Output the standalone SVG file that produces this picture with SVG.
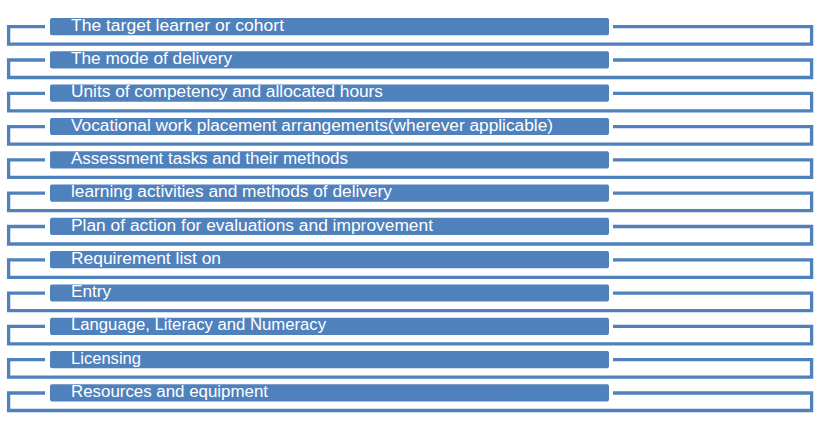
<svg xmlns="http://www.w3.org/2000/svg" width="831" height="425" viewBox="0 0 831 425">
<style>
.frame{fill:none;stroke:#4F81BD;stroke-width:3.3;stroke-linejoin:miter}
.bar{fill:#4F81BD}
.lbl{fill:#ffffff;font-family:"Liberation Sans",Arial,sans-serif;font-size:16px}
</style>
<rect width="831" height="425" fill="#ffffff"/>
<g id="connectors">
<path class="frame" d="M45,26.7 H8.6 V44.2 H811.6 V26.7 H613"/>
<path class="frame" d="M45,60 H8.6 V77.5 H811.6 V60 H613"/>
<path class="frame" d="M45,93.3 H8.6 V110.8 H811.6 V93.3 H613"/>
<path class="frame" d="M45,126.6 H8.6 V144.1 H811.6 V126.6 H613"/>
<path class="frame" d="M45,159.9 H8.6 V177.4 H811.6 V159.9 H613"/>
<path class="frame" d="M45,193.2 H8.6 V210.7 H811.6 V193.2 H613"/>
<path class="frame" d="M45,226.5 H8.6 V244 H811.6 V226.5 H613"/>
<path class="frame" d="M45,259.8 H8.6 V277.3 H811.6 V259.8 H613"/>
<path class="frame" d="M45,293.1 H8.6 V310.6 H811.6 V293.1 H613"/>
<path class="frame" d="M45,326.4 H8.6 V343.9 H811.6 V326.4 H613"/>
<path class="frame" d="M45,359.7 H8.6 V377.2 H811.6 V359.7 H613"/>
<path class="frame" d="M45,393 H8.6 V410.5 H811.6 V393 H613"/>
</g>
<g id="n1"><rect class="bar" x="50" y="18" width="559" height="17.2" rx="2"/><text class="lbl" x="71" y="30.7" textLength="213" lengthAdjust="spacingAndGlyphs">The target learner or cohort</text></g>
<g id="n2"><rect class="bar" x="50" y="51.3" width="559" height="17.2" rx="2"/><text class="lbl" x="71" y="64" textLength="161" lengthAdjust="spacingAndGlyphs">The mode of delivery</text></g>
<g id="n3"><rect class="bar" x="50" y="84.6" width="559" height="17.2" rx="2"/><text class="lbl" x="71" y="97.3" textLength="312" lengthAdjust="spacingAndGlyphs">Units of competency and allocated hours</text></g>
<g id="n4"><rect class="bar" x="50" y="117.9" width="559" height="17.2" rx="2"/><text class="lbl" x="71" y="130.6" textLength="482" lengthAdjust="spacingAndGlyphs">Vocational work placement arrangements(wherever applicable)</text></g>
<g id="n5"><rect class="bar" x="50" y="151.2" width="559" height="17.2" rx="2"/><text class="lbl" x="71" y="163.9" textLength="277" lengthAdjust="spacingAndGlyphs">Assessment tasks and their methods</text></g>
<g id="n6"><rect class="bar" x="50" y="184.5" width="559" height="17.2" rx="2"/><text class="lbl" x="71" y="197.2" textLength="321" lengthAdjust="spacingAndGlyphs">learning activities and methods of delivery</text></g>
<g id="n7"><rect class="bar" x="50" y="217.8" width="559" height="17.2" rx="2"/><text class="lbl" x="71" y="230.5" textLength="362" lengthAdjust="spacingAndGlyphs">Plan of action for evaluations and improvement</text></g>
<g id="n8"><rect class="bar" x="50" y="251.1" width="559" height="17.2" rx="2"/><text class="lbl" x="71" y="263.8" textLength="150" lengthAdjust="spacingAndGlyphs">Requirement list on</text></g>
<g id="n9"><rect class="bar" x="50" y="284.4" width="559" height="17.2" rx="2"/><text class="lbl" x="71" y="297.1" textLength="40" lengthAdjust="spacingAndGlyphs">Entry</text></g>
<g id="n10"><rect class="bar" x="50" y="317.7" width="559" height="17.2" rx="2"/><text class="lbl" x="71" y="330.4" textLength="255" lengthAdjust="spacingAndGlyphs">Language, Literacy and Numeracy</text></g>
<g id="n11"><rect class="bar" x="50" y="351" width="559" height="17.2" rx="2"/><text class="lbl" x="71" y="363.7" textLength="70" lengthAdjust="spacingAndGlyphs">Licensing</text></g>
<g id="n12"><rect class="bar" x="50" y="384.3" width="559" height="17.2" rx="2"/><text class="lbl" x="71" y="397" textLength="197" lengthAdjust="spacingAndGlyphs">Resources and equipment</text></g>
</svg>
